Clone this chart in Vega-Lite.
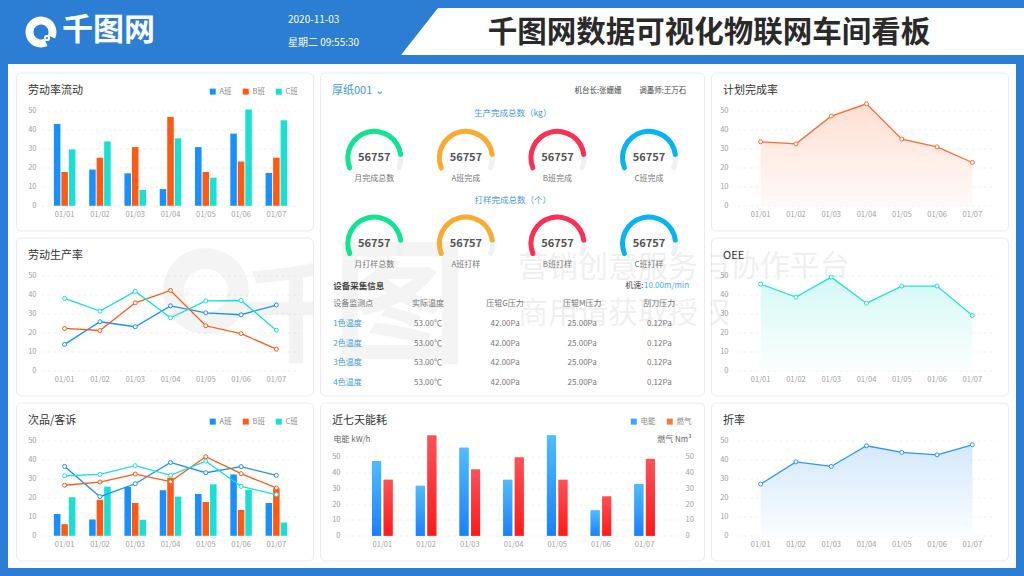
{"$schema":"https://vega.github.io/schema/vega-lite/v6.json","background":"white","padding":0,"spacing":0,"resolve":{"scale":{"color":"independent","xOffset":"independent","theta":"independent"},"legend":{"color":"independent"}},
"config":{"font":"Noto Sans CJK SC","view":{"fill":"white","stroke":"#ebebeb","cornerRadius":5,"strokeWidth":1},
"axis":{"domain":false,"ticks":false,"labelColor":"#a0a0a0","labelFontSize":7.5,"labelPadding":2,"grid":false,"gridColor":"#f0f0f0","gridDash":[3,3],"gridWidth":1,"title":null},
"legend":{"orient":"none","direction":"horizontal","symbolType":"square","symbolSize":36,"symbolStrokeWidth":0,"labelFontSize":7.5,"labelColor":"#888888","labelOffset":3,"columnPadding":10,"title":null,"padding":0},
"title":{"anchor":"start","frame":"group","fontSize":11,"fontWeight":"normal","color":"#333333","offset":0,"baseline":"bottom","dx":12,"dy":27},
"text":{"fontSize":8,"color":"#777777"}},
"datasets":{
"c1":[{"date":"01/01","team":"A班","value":43},{"date":"01/02","team":"A班","value":19.1},{"date":"01/03","team":"A班","value":17.1},{"date":"01/04","team":"A班","value":8.8},{"date":"01/05","team":"A班","value":30.9},{"date":"01/06","team":"A班","value":38},{"date":"01/07","team":"A班","value":17.3},{"date":"01/01","team":"B班","value":17.8},{"date":"01/02","team":"B班","value":25.3},{"date":"01/03","team":"B班","value":30.9},{"date":"01/04","team":"B班","value":46.8},{"date":"01/05","team":"B班","value":17.8},{"date":"01/06","team":"B班","value":23.3},{"date":"01/07","team":"B班","value":25.3},{"date":"01/01","team":"C班","value":29.7},{"date":"01/02","team":"C班","value":33.9},{"date":"01/03","team":"C班","value":8.3},{"date":"01/04","team":"C班","value":35.5},{"date":"01/05","team":"C班","value":14.8},{"date":"01/06","team":"C班","value":50.7},{"date":"01/07","team":"C班","value":45}],
"c2":[{"date":"01/01","team":"A班","value":13.9},{"date":"01/02","team":"A班","value":25.8},{"date":"01/03","team":"A班","value":23.2},{"date":"01/04","team":"A班","value":34.2},{"date":"01/05","team":"A班","value":30.5},{"date":"01/06","team":"A班","value":29.5},{"date":"01/07","team":"A班","value":34.6},{"date":"01/01","team":"B班","value":22.3},{"date":"01/02","team":"B班","value":21.2},{"date":"01/03","team":"B班","value":35.8},{"date":"01/04","team":"B班","value":42.3},{"date":"01/05","team":"B班","value":23.7},{"date":"01/06","team":"B班","value":19.6},{"date":"01/07","team":"B班","value":11.4},{"date":"01/01","team":"C班","value":38.1},{"date":"01/02","team":"C班","value":31.4},{"date":"01/03","team":"C班","value":41.8},{"date":"01/04","team":"C班","value":27.9},{"date":"01/05","team":"C班","value":36.8},{"date":"01/06","team":"C班","value":37},{"date":"01/07","team":"C班","value":21.4}],
"c3bar":[{"date":"01/01","team":"A班","value":11.5},{"date":"01/02","team":"A班","value":8.6},{"date":"01/03","team":"A班","value":25.7},{"date":"01/04","team":"A班","value":24},{"date":"01/05","team":"A班","value":22},{"date":"01/06","team":"A班","value":32.3},{"date":"01/07","team":"A班","value":17.3},{"date":"01/01","team":"B班","value":6.1},{"date":"01/02","team":"B班","value":19},{"date":"01/03","team":"B班","value":17.3},{"date":"01/04","team":"B班","value":30.6},{"date":"01/05","team":"B班","value":17.8},{"date":"01/06","team":"B班","value":13.6},{"date":"01/07","team":"B班","value":25},{"date":"01/01","team":"C班","value":20.3},{"date":"01/02","team":"C班","value":25.9},{"date":"01/03","team":"C班","value":8.4},{"date":"01/04","team":"C班","value":20.6},{"date":"01/05","team":"C班","value":27.1},{"date":"01/06","team":"C班","value":24.3},{"date":"01/07","team":"C班","value":7}],
"c3line":[{"date":"01/01","team":"A班","value":36.5},{"date":"01/02","team":"A班","value":20.6},{"date":"01/03","team":"A班","value":27.4},{"date":"01/04","team":"A班","value":38.6},{"date":"01/05","team":"A班","value":33.2},{"date":"01/06","team":"A班","value":36.4},{"date":"01/07","team":"A班","value":31.8},{"date":"01/01","team":"B班","value":26.6},{"date":"01/02","team":"B班","value":28.3},{"date":"01/03","team":"B班","value":32.5},{"date":"01/04","team":"B班","value":28.5},{"date":"01/05","team":"B班","value":41.6},{"date":"01/06","team":"B班","value":32.7},{"date":"01/07","team":"B班","value":25.2},{"date":"01/01","team":"C班","value":31.6},{"date":"01/02","team":"C班","value":32.3},{"date":"01/03","team":"C班","value":36.9},{"date":"01/04","team":"C班","value":31.8},{"date":"01/05","team":"C班","value":39.3},{"date":"01/06","team":"C班","value":26},{"date":"01/07","team":"C班","value":21.7}],
"energy":[{"date":"01/01","kind":"电能","value":47},{"date":"01/02","kind":"电能","value":31.5},{"date":"01/03","kind":"电能","value":55.5},{"date":"01/04","kind":"电能","value":35.3},{"date":"01/05","kind":"电能","value":63.2},{"date":"01/06","kind":"电能","value":16},{"date":"01/07","kind":"电能","value":32.6},{"date":"01/01","kind":"燃气","value":35.3},{"date":"01/02","kind":"燃气","value":63.2},{"date":"01/03","kind":"燃气","value":41.8},{"date":"01/04","kind":"燃气","value":49.4},{"date":"01/05","kind":"燃气","value":35.3},{"date":"01/06","kind":"燃气","value":24.8},{"date":"01/07","kind":"燃气","value":48.5}],
"plan":[{"date":"01/01","value":33.7},{"date":"01/02","value":32.6},{"date":"01/03","value":47.2},{"date":"01/04","value":53.7},{"date":"01/05","value":35.1},{"date":"01/06","value":31},{"date":"01/07","value":22.8}],
"oee":[{"date":"01/01","value":45.6},{"date":"01/02","value":38.8},{"date":"01/03","value":49.3},{"date":"01/04","value":35.6},{"date":"01/05","value":44.6},{"date":"01/06","value":44.6},{"date":"01/07","value":29.1}],
"loss":[{"date":"01/01","value":27.2},{"date":"01/02","value":38.9},{"date":"01/03","value":36.5},{"date":"01/04","value":47.4},{"date":"01/05","value":43.9},{"date":"01/06","value":42.6},{"date":"01/07","value":47.9}],
"gauges":[{"section":"生产完成总数（kg）","col":"总","label":"月完成总数","value":56757,"start":0,"pct":0.875,"full":1},{"section":"生产完成总数（kg）","col":"A","label":"A班完成","value":56757,"start":0,"pct":0.875,"full":1},{"section":"生产完成总数（kg）","col":"B","label":"B班完成","value":56757,"start":0,"pct":0.875,"full":1},{"section":"生产完成总数（kg）","col":"C","label":"C班完成","value":56757,"start":0,"pct":0.875,"full":1},{"section":"打样完成总数（个）","col":"总","label":"月打样总数","value":56757,"start":0,"pct":0.875,"full":1},{"section":"打样完成总数（个）","col":"A","label":"A班打样","value":56757,"start":0,"pct":0.875,"full":1},{"section":"打样完成总数（个）","col":"B","label":"B班打样","value":56757,"start":0,"pct":0.875,"full":1},{"section":"打样完成总数（个）","col":"C","label":"C班打样","value":56757,"start":0,"pct":0.875,"full":1}],
"table":[{"point":"设备监测点","metric":"实际温度","reading":"实际温度"},{"point":"设备监测点","metric":"压辊G压力","reading":"压辊G压力"},{"point":"设备监测点","metric":"压辊M压力","reading":"压辊M压力"},{"point":"设备监测点","metric":"刮刀压力","reading":"刮刀压力"},
{"point":"1色温度","metric":"实际温度","reading":"53.00℃"},{"point":"1色温度","metric":"压辊G压力","reading":"42.00Pa"},{"point":"1色温度","metric":"压辊M压力","reading":"25.00Pa"},{"point":"1色温度","metric":"刮刀压力","reading":"0.12Pa"},
{"point":"2色温度","metric":"实际温度","reading":"53.00℃"},{"point":"2色温度","metric":"压辊G压力","reading":"42.00Pa"},{"point":"2色温度","metric":"压辊M压力","reading":"25.00Pa"},{"point":"2色温度","metric":"刮刀压力","reading":"0.12Pa"},
{"point":"3色温度","metric":"实际温度","reading":"53.00℃"},{"point":"3色温度","metric":"压辊G压力","reading":"42.00Pa"},{"point":"3色温度","metric":"压辊M压力","reading":"25.00Pa"},{"point":"3色温度","metric":"刮刀压力","reading":"0.12Pa"},
{"point":"4色温度","metric":"实际温度","reading":"53.00℃"},{"point":"4色温度","metric":"压辊G压力","reading":"42.00Pa"},{"point":"4色温度","metric":"压辊M压力","reading":"25.00Pa"},{"point":"4色温度","metric":"刮刀压力","reading":"0.12Pa"}]
},
"vconcat":[
{"width":1024,"height":64,"view":{"fill":"#2b7ed3","stroke":null,"cornerRadius":0},"resolve":{"scale":{"x":"independent","y":"independent"}},"layer":[
{"data":{"values":[{"banner":"千图网数据可视化物联网车间看板"}]},"mark":{"type":"point","shape":"M0 47L37 0L623 0L623 47Z","filled":true,"fill":"white","opacity":1,"size":4,"stroke":null,"clip":true},"encoding":{"x":{"field":"banner","type":"nominal","axis":null,"scale":{"type":"point","range":[401,401]}},"y":{"field":"banner","type":"nominal","axis":null,"scale":{"type":"point","range":[8,8]}}}},
{"data":{"values":[{"banner":"千图网数据可视化物联网车间看板"}]},"mark":{"type":"text","fontSize":29.5,"fontWeight":"bold","color":"#2a2a2a"},"encoding":{"text":{"field":"banner"},"x":{"field":"banner","type":"nominal","axis":null,"scale":{"type":"point","range":[709,709]}},"y":{"field":"banner","type":"nominal","axis":null,"scale":{"type":"point","range":[33,33]}}}},
{"data":{"values":[{"line":"2020-11-03"},{"line":"星期二 09:55:30"}]},"mark":{"type":"text","fontSize":10,"align":"left","color":"white"},"encoding":{"text":{"field":"line"},"x":{"field":"line","type":"nominal","axis":null,"scale":{"type":"point","range":[288,288]}},"y":{"field":"line","type":"nominal","axis":null,"scale":{"type":"point","domain":["2020-11-03","星期二 09:55:30"],"range":[20,43],"padding":0}}}},
{"data":{"values":[{"logo":"千图网"}]},"mark":{"type":"text","fontSize":31,"fontWeight":"bold","align":"left","color":"white"},"encoding":{"text":{"field":"logo"},"x":{"field":"logo","type":"nominal","axis":null,"scale":{"type":"point","range":[62,62]}},"y":{"field":"logo","type":"nominal","axis":null,"scale":{"type":"point","range":[31,31]}}}},
{"data":{"values":[{"logo":"千图网","from":155,"to":475}]},"mark":{"type":"arc","radius":15.5,"radius2":7.5,"color":"white"},"encoding":{"theta":{"field":"from","type":"quantitative","stack":null,"scale":{"domain":[0,360],"range":[0,6.2832]}},"theta2":{"field":"to"},"x":{"field":"logo","type":"nominal","axis":null,"scale":{"type":"point","range":[41,41]}},"y":{"field":"logo","type":"nominal","axis":null,"scale":{"type":"point","range":[32,32]}}}},
{"data":{"values":[{"logo":"千图网"}]},"mark":{"type":"point","filled":false,"fill":"#2b7ed3","fillOpacity":1,"opacity":1,"stroke":"white","strokeWidth":2,"size":18},"encoding":{"x":{"field":"logo","type":"nominal","axis":null,"scale":{"type":"point","range":[47,47]}},"y":{"field":"logo","type":"nominal","axis":null,"scale":{"type":"point","range":[38,38]}}}}
]},
{"spacing":0,"resolve":{"scale":{"color":"independent","xOffset":"independent","theta":"independent"},"legend":{"color":"independent"}},"hconcat":[
{"width":8,"height":512,"view":{"fill":"#2b7ed3","stroke":null,"cornerRadius":0},"data":{"values":[]},"mark":"text","encoding":{}},
{"spacing":6.5,"resolve":{"scale":{"color":"independent","xOffset":"independent","theta":"independent"},"legend":{"color":"independent"}},"vconcat":[
{"width":1008,"height":1,"view":{"fill":"white","stroke":null,"cornerRadius":0},"data":{"values":[]},"mark":"text","encoding":{}},
{"spacing":5,"resolve":{"scale":{"color":"independent","xOffset":"independent","theta":"independent"},"legend":{"color":"independent"}},"hconcat":[
{"width":2,"height":488,"view":{"fill":"white","stroke":null,"cornerRadius":0},"data":{"values":[]},"mark":"text","encoding":{}},
{"spacing":7,"bounds":"flush","resolve":{"scale":{"color":"independent","xOffset":"independent","theta":"independent"},"legend":{"color":"independent"}},"vconcat":[
{"width":297,"height":158,"title":"劳动率流动","data":{"name":"c1"},"mark":{"type":"bar"},"encoding":{
"x":{"field":"date","type":"nominal","title":null,"scale":{"type":"band","range":[25,284],"paddingInner":0,"paddingOuter":0.17},"axis":{"offset":-24.7,"labelPadding":5,"labelAngle":0}},
"xOffset":{"field":"team","type":"nominal","scale":{"domain":["A班","B班","C班"],"paddingInner":0.13,"paddingOuter":0.915}},
"y":{"field":"value","type":"quantitative","stack":null,"title":null,"scale":{"domain":[0,50],"range":[133.3,38.3],"nice":false},"axis":{"offset":-22,"values":[0,10,20,30,40,50],"grid":true}},
"color":{"field":"team","type":"nominal","scale":{"domain":["A班","B班","C班"],"range":["#1890ff","#ff5a14","#19e0d5"]},"legend":{"legendX":193,"legendY":15}}}},
{"width":297,"height":158,"title":"劳动生产率","encoding":{
"x":{"field":"date","type":"nominal","title":null,"scale":{"type":"band","range":[25,284],"paddingInner":0,"paddingOuter":0.17},"axis":{"offset":-24.7,"labelPadding":5,"labelAngle":0}},
"y":{"field":"value","type":"quantitative","stack":null,"title":null,"scale":{"domain":[0,50],"range":[133.3,38.3],"nice":false},"axis":{"offset":-22,"values":[0,10,20,30,40,50],"grid":true}}},
"layer":[
{"data":{"values":[{"date":"01/05","value":42}]},"mark":{"type":"arc","radius":43,"radius2":22,"theta":0,"theta2":6.2832,"color":"#000000","opacity":0.045,"clip":true}},
{"data":{"values":[{"date":"01/07","value":26.5,"wm":"千"}]},"mark":{"type":"text","fontSize":110,"fontWeight":"bold","dx":20,"color":"#000000","opacity":0.045,"clip":true},"encoding":{"text":{"field":"wm"}}},
{"data":{"name":"c2"},"mark":{"type":"line","strokeWidth":1.3},"encoding":{"color":{"field":"team","type":"nominal","scale":{"domain":["A班","B班","C班"],"range":["#1890ff","#ff5a14","#19e0d5"]},"legend":null}}},
{"data":{"name":"c2"},"mark":{"type":"point","filled":false,"fill":"white","fillOpacity":1,"opacity":1,"size":16,"strokeWidth":1},"encoding":{"color":{"field":"team","type":"nominal","scale":{"domain":["A班","B班","C班"],"range":["#1890ff","#ff5a14","#19e0d5"]},"legend":null}}},
{"data":{"values":[]},"mark":"bar","encoding":{"color":{"field":"team","type":"nominal","scale":{"domain":["A班","B班","C班"],"range":["#1890ff","#ff5a14","#19e0d5"]},"legend":{"legendX":193,"legendY":15}}}}
]},
{"width":297,"height":158,"title":"次品/客诉","encoding":{
"x":{"field":"date","type":"nominal","title":null,"scale":{"type":"band","range":[25,284],"paddingInner":0,"paddingOuter":0.17},"axis":{"offset":-24.7,"labelPadding":5,"labelAngle":0}},
"y":{"field":"value","type":"quantitative","stack":null,"title":null,"scale":{"domain":[0,50],"range":[133.3,38.3],"nice":false},"axis":{"offset":-22,"values":[0,10,20,30,40,50],"grid":true}}},
"layer":[
{"data":{"name":"c3bar"},"mark":"bar","encoding":{"xOffset":{"field":"team","type":"nominal","scale":{"domain":["A班","B班","C班"],"paddingInner":0.13,"paddingOuter":0.915}},"color":{"field":"team","type":"nominal","scale":{"domain":["A班","B班","C班"],"range":["#1890ff","#ff5a14","#19e0d5"]},"legend":{"legendX":193,"legendY":15}}}},
{"data":{"name":"c3line"},"mark":{"type":"line","strokeWidth":1.3},"encoding":{"color":{"field":"team","type":"nominal","scale":{"domain":["A班","B班","C班"],"range":["#1890ff","#ff5a14","#19e0d5"]},"legend":null}}},
{"data":{"name":"c3line"},"mark":{"type":"point","filled":false,"fill":"white","fillOpacity":1,"opacity":1,"size":16,"strokeWidth":1},"encoding":{"color":{"field":"team","type":"nominal","scale":{"domain":["A班","B班","C班"],"range":["#1890ff","#ff5a14","#19e0d5"]},"legend":null}}}
]}
]},
{"spacing":7,"bounds":"flush","resolve":{"scale":{"color":"independent","xOffset":"independent","theta":"independent"},"legend":{"color":"independent"}},"vconcat":[
{"width":384,"height":323,"title":{"text":"厚纸001 ⌄","color":"#3f9ae0"},"resolve":{"scale":{"x":"independent","y":"independent"}},"layer":[
{"data":{"values":[{"wm":"图"}]},"mark":{"type":"text","fontSize":135,"fontWeight":"bold","color":"#000000","opacity":0.045,"clip":true},"encoding":{"text":{"field":"wm"},"x":{"field":"wm","type":"nominal","axis":null,"scale":{"type":"point","range":[80,80]}},"y":{"field":"wm","type":"nominal","axis":null,"scale":{"type":"point","range":[238,238]}}}},
{"data":{"values":[{"wm":"营销创意服务"},{"wm":"商用请获取授"}]},"mark":{"type":"text","fontSize":30,"align":"left","color":"#000000","opacity":0.06,"clip":true},"encoding":{"text":{"field":"wm"},"x":{"field":"wm","type":"nominal","axis":null,"scale":{"type":"point","range":[198,198]}},"y":{"field":"wm","type":"nominal","axis":null,"scale":{"type":"point","domain":["营销创意服务","商用请获取授"],"range":[195,241],"padding":0}}}},
{"data":{"name":"gauges"},"mark":{"type":"arc","radius":29,"radius2":24,"cornerRadius":2.5,"color":"#eef0f6"},"encoding":{"x":{"field":"col","type":"nominal","axis":null,"scale":{"type":"point","domain":["总","A","B","C"],"range":[54.3,329],"padding":0}},"y":{"field":"section","type":"nominal","axis":null,"scale":{"type":"point","domain":["生产完成总数（kg）","打样完成总数（个）"],"range":[85.3,171],"padding":0}},"theta":{"field":"start","type":"quantitative","stack":null,"scale":{"domain":[0,1],"range":[-2.05,2.05]}},"theta2":{"field":"full"}}},
{"data":{"name":"gauges"},"mark":{"type":"arc","radius":29,"radius2":24,"cornerRadius":2.5},"encoding":{"x":{"field":"col","type":"nominal","axis":null,"scale":{"type":"point","domain":["总","A","B","C"],"range":[54.3,329],"padding":0}},"y":{"field":"section","type":"nominal","axis":null,"scale":{"type":"point","domain":["生产完成总数（kg）","打样完成总数（个）"],"range":[85.3,171],"padding":0}},"theta":{"field":"start","type":"quantitative","stack":null,"scale":{"domain":[0,1],"range":[-2.05,2.05]}},"theta2":{"field":"pct"},"color":{"field":"col","type":"nominal","scale":{"domain":["总","A","B","C"],"range":["#0ee58e","#fbaa2f","#fb3052","#05b4f0"]},"legend":null}}},
{"data":{"name":"gauges"},"mark":{"type":"text","fontSize":11,"fontWeight":"bold","color":"#555555"},"encoding":{"x":{"field":"col","type":"nominal","axis":null,"scale":{"type":"point","domain":["总","A","B","C"],"range":[54.3,329],"padding":0}},"y":{"field":"section","type":"nominal","axis":null,"scale":{"type":"point","domain":["生产完成总数（kg）","打样完成总数（个）"],"range":[85.3,171],"padding":0}},"text":{"field":"value","type":"quantitative","format":"d"}}},
{"data":{"name":"gauges"},"mark":{"type":"text","fontSize":8,"dy":21.4,"color":"#777777"},"encoding":{"x":{"field":"col","type":"nominal","axis":null,"scale":{"type":"point","domain":["总","A","B","C"],"range":[54.3,329],"padding":0}},"y":{"field":"section","type":"nominal","axis":null,"scale":{"type":"point","domain":["生产完成总数（kg）","打样完成总数（个）"],"range":[85.3,171],"padding":0}},"text":{"field":"label"}}},
{"data":{"values":[{"section":"生产完成总数（kg）"},{"section":"打样完成总数（个）"}]},"mark":{"type":"text","fontSize":8.5,"color":"#3f9ae0"},"encoding":{"text":{"field":"section"},"x":{"field":"section","type":"nominal","axis":null,"scale":{"type":"point","range":[192.7,192.7]}},"y":{"field":"section","type":"nominal","axis":null,"scale":{"type":"point","domain":["生产完成总数（kg）","打样完成总数（个）"],"range":[40.7,127],"padding":0}}}},
{"data":{"values":[{"staff":"机台长:张姗姗"},{"staff":"调墨师:王万石"}]},"mark":{"type":"text","fontSize":7.5,"color":"#444444"},"encoding":{"text":{"field":"staff"},"x":{"field":"staff","type":"nominal","axis":null,"scale":{"type":"point","domain":["机台长:张姗姗","调墨师:王万石"],"range":[278,342.7],"padding":0}},"y":{"field":"staff","type":"nominal","axis":null,"scale":{"type":"point","range":[18.7,18.7]}}}},
{"data":{"values":[{"head":"设备采集信息"}]},"mark":{"type":"text","fontSize":8.5,"fontWeight":"bold","align":"left","color":"#444444"},"encoding":{"text":{"field":"head"},"x":{"field":"head","type":"nominal","axis":null,"scale":{"type":"point","range":[13.3,13.3]}},"y":{"field":"head","type":"nominal","axis":null,"scale":{"type":"point","range":[213,213]}}}},
{"data":{"values":[{"speed":"机速:"}]},"mark":{"type":"text","fontSize":8,"align":"right","color":"#444444"},"encoding":{"text":{"field":"speed"},"x":{"field":"speed","type":"nominal","axis":null,"scale":{"type":"point","range":[323.5,323.5]}},"y":{"field":"speed","type":"nominal","axis":null,"scale":{"type":"point","range":[213,213]}}}},
{"data":{"values":[{"speed":"10.00m/min"}]},"mark":{"type":"text","fontSize":8,"align":"left","color":"#4aa8f5"},"encoding":{"text":{"field":"speed"},"x":{"field":"speed","type":"nominal","axis":null,"scale":{"type":"point","range":[324,324]}},"y":{"field":"speed","type":"nominal","axis":null,"scale":{"type":"point","range":[213,213]}}}},
{"data":{"name":"table"},"mark":{"type":"text","fontSize":8,"color":"#777777"},"encoding":{"text":{"field":"reading"},"x":{"field":"metric","type":"nominal","axis":null,"scale":{"type":"point","domain":["实际温度","压辊G压力","压辊M压力","刮刀压力"],"range":[108,339.3],"padding":0}},"y":{"field":"point","type":"nominal","axis":null,"scale":{"type":"point","domain":["设备监测点","1色温度","2色温度","3色温度","4色温度"],"range":[231.7,310.7],"padding":0}}}},
{"data":{"values":[{"point":"设备监测点"}]},"mark":{"type":"text","fontSize":8,"align":"left","color":"#777777"},"encoding":{"text":{"field":"point"},"x":{"field":"point","type":"nominal","axis":null,"scale":{"type":"point","range":[13.3,13.3]}},"y":{"field":"point","type":"nominal","axis":null,"scale":{"type":"point","domain":["设备监测点","1色温度","2色温度","3色温度","4色温度"],"range":[231.7,310.7],"padding":0}}}},
{"data":{"values":[{"point":"1色温度"},{"point":"2色温度"},{"point":"3色温度"},{"point":"4色温度"}]},"mark":{"type":"text","fontSize":8,"align":"left","color":"#3f9ae0"},"encoding":{"text":{"field":"point"},"x":{"field":"point","type":"nominal","axis":null,"scale":{"type":"point","range":[13.3,13.3]}},"y":{"field":"point","type":"nominal","axis":null,"scale":{"type":"point","domain":["设备监测点","1色温度","2色温度","3色温度","4色温度"],"range":[231.7,310.7],"padding":0}}}}
]},
{"width":384,"height":158,"title":"近七天能耗","data":{"name":"energy"},"resolve":{"scale":{"y":"independent"}},"encoding":{
"x":{"field":"date","type":"nominal","title":null,"scale":{"type":"band","range":[25,362],"paddingInner":0,"paddingOuter":0.355},"axis":{"offset":-24.7,"labelPadding":5,"labelAngle":0}},
"xOffset":{"field":"kind","type":"nominal","scale":{"domain":["电能","燃气"],"paddingInner":0.22,"paddingOuter":1.36}}},
"layer":[
{"mark":"bar","encoding":{"y":{"field":"value","type":"quantitative","stack":null,"title":"电能 kW/h","scale":{"domain":[0,50],"range":[133.3,54],"nice":false},"axis":{"offset":-22,"values":[0,10,20,30,40,50],"grid":true,"titleAngle":0,"titleAlign":"left","titleBaseline":"middle","titleX":-9,"titleY":37,"titleFontSize":8,"titleFontWeight":"normal","titleColor":"#666666"}},"color":{"field":"kind","type":"nominal","scale":{"domain":["电能","燃气"],"range":["#3ea6f7","#f97a3b"]},"legend":{"legendX":310,"legendY":15}}}},
{"transform":[{"filter":"datum.kind === '电能'"}],"mark":{"type":"bar","color":{"gradient":"linear","x1":0,"y1":0,"x2":0,"y2":1,"stops":[{"offset":0,"color":"#4dbdff"},{"offset":1,"color":"#1a7fff"}]}},"encoding":{"y":{"field":"value","type":"quantitative","stack":null,"scale":{"domain":[0,50],"range":[133.3,54],"nice":false},"axis":null}}},
{"transform":[{"filter":"datum.kind === '燃气'"}],"mark":{"type":"bar","color":{"gradient":"linear","x1":0,"y1":0,"x2":0,"y2":1,"stops":[{"offset":0,"color":"#ff5058"},{"offset":1,"color":"#ff1a1a"}]}},"encoding":{"y":{"field":"value","type":"quantitative","stack":null,"title":"燃气 Nm³","scale":{"domain":[0,50],"range":[133.3,54],"nice":false},"axis":{"orient":"right","offset":-22,"labelPadding":3,"values":[0,10,20,30,40,50],"grid":false,"titleAngle":0,"titleAlign":"right","titleBaseline":"middle","titleX":9,"titleY":37,"titleFontSize":8,"titleFontWeight":"normal","titleColor":"#666666"}}}}
]}
]},
{"spacing":7,"bounds":"flush","resolve":{"scale":{"color":"independent","xOffset":"independent","theta":"independent"},"legend":{"color":"independent"}},"vconcat":[
{"width":297,"height":158,"title":"计划完成率","data":{"name":"plan"},"encoding":{
"x":{"field":"date","type":"nominal","title":null,"scale":{"type":"band","range":[26,285],"paddingInner":0,"paddingOuter":0.17},"axis":{"offset":-24.7,"labelPadding":5,"labelAngle":0}},
"y":{"field":"value","type":"quantitative","stack":null,"title":null,"scale":{"domain":[0,50],"range":[133.3,38.3],"nice":false},"axis":{"offset":-19,"values":[0,10,20,30,40,50],"grid":true}}},
"layer":[
{"mark":{"type":"area","color":{"gradient":"linear","x1":0,"y1":0,"x2":0,"y2":1,"stops":[{"offset":0,"color":"#ffdfd2"},{"offset":1,"color":"#fffafa"}]}}},
{"mark":{"type":"line","strokeWidth":1.3,"color":"#ff6a2f"}},
{"mark":{"type":"point","filled":false,"fill":"white","fillOpacity":1,"opacity":1,"size":16,"strokeWidth":1,"color":"#ff6a2f"}}
]},
{"width":297,"height":158,"title":"OEE","encoding":{
"x":{"field":"date","type":"nominal","title":null,"scale":{"type":"band","range":[26,285],"paddingInner":0,"paddingOuter":0.17},"axis":{"offset":-24.7,"labelPadding":5,"labelAngle":0}},
"y":{"field":"value","type":"quantitative","stack":null,"title":null,"scale":{"domain":[0,50],"range":[133.3,38.3],"nice":false},"axis":{"offset":-19,"values":[0,10,20,30,40,50],"grid":true}}},
"layer":[
{"data":{"values":[{"date":"01/01","value":54.4,"wm":"与协作平台"},{"date":"01/01","value":30.5,"wm":"权"}]},"mark":{"type":"text","fontSize":30,"align":"left","dx":-61,"color":"#000000","opacity":0.06,"clip":true},"encoding":{"text":{"field":"wm"}}},
{"data":{"name":"oee"},"mark":{"type":"area","color":{"gradient":"linear","x1":0,"y1":0,"x2":0,"y2":1,"stops":[{"offset":0,"color":"#d5f8f5"},{"offset":1,"color":"#fbfffe"}]}}},
{"data":{"name":"oee"},"mark":{"type":"line","strokeWidth":1.3,"color":"#1fe3d8"}},
{"data":{"name":"oee"},"mark":{"type":"point","filled":false,"fill":"white","fillOpacity":1,"opacity":1,"size":16,"strokeWidth":1,"color":"#1fe3d8"}}
]},
{"width":297,"height":158,"title":"折率","data":{"name":"loss"},"encoding":{
"x":{"field":"date","type":"nominal","title":null,"scale":{"type":"band","range":[26,285],"paddingInner":0,"paddingOuter":0.17},"axis":{"offset":-24.7,"labelPadding":5,"labelAngle":0}},
"y":{"field":"value","type":"quantitative","stack":null,"title":null,"scale":{"domain":[0,50],"range":[133.3,38.3],"nice":false},"axis":{"offset":-19,"values":[0,10,20,30,40,50],"grid":true}}},
"layer":[
{"mark":{"type":"area","color":{"gradient":"linear","x1":0,"y1":0,"x2":0,"y2":1,"stops":[{"offset":0,"color":"#d4e8fb"},{"offset":1,"color":"#fafdff"}]}}},
{"mark":{"type":"line","strokeWidth":1.3,"color":"#2a96f5"}},
{"mark":{"type":"point","filled":false,"fill":"white","fillOpacity":1,"opacity":1,"size":16,"strokeWidth":1,"color":"#2a96f5"}}
]}
]}
]},
{"width":1008,"height":9,"view":{"fill":"#2b7ed3","stroke":null,"cornerRadius":0},"data":{"values":[]},"mark":"text","encoding":{}}
]},
{"width":8,"height":512,"view":{"fill":"#2b7ed3","stroke":null,"cornerRadius":0},"data":{"values":[]},"mark":"text","encoding":{}}
]}
]}
